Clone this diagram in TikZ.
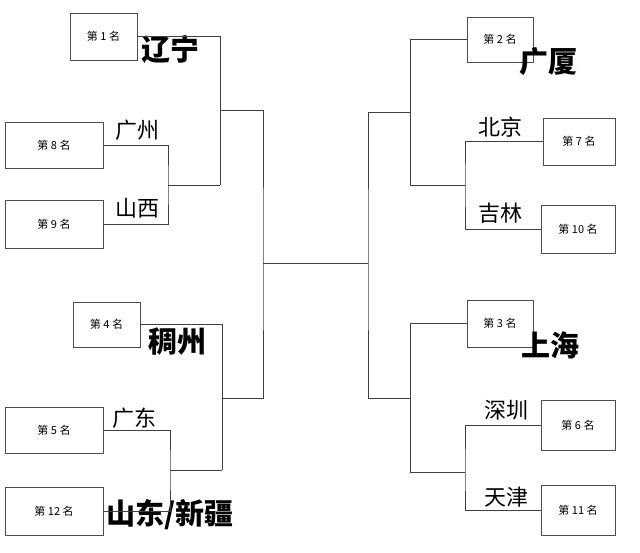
\documentclass[tikz,border=0pt]{standalone}
\usepackage{fontspec}
\newfontfamily\cjk{Noto Sans CJK SC}
\begin{document}
\begin{tikzpicture}[x=1pt,y=-1pt]
\tikzset{rank/.style={draw=black!70, line width=0.6pt, font=\cjk\fontsize{11}{12}\selectfont},
team/.style={font=\cjk\fontsize{22}{24}\selectfont},
big/.style={font=\cjk\bfseries\fontsize{29}{30}\selectfont},
link/.style={draw=black!75, line width=0.7pt}}
\useasboundingbox (0,0) rectangle (640,553);

% left boxes
\node[rank, minimum width=67, minimum height=47] (b1) at (103.5,36.5) {第 1 名};
\node[rank, minimum width=98, minimum height=46] (b8) at (54,145) {第 8 名};
\node[rank, minimum width=98, minimum height=48] (b9) at (54,224) {第 9 名};
\node[rank, minimum width=67, minimum height=45] (b4) at (106.5,324.5) {第 4 名};
\node[rank, minimum width=98, minimum height=46] (b5) at (54,430) {第 5 名};
\node[rank, minimum width=98, minimum height=48] (b12) at (54,511) {第 12 名};

% right boxes
\node[rank, minimum width=66, minimum height=45] (b2) at (500,39.5) {第 2 名};
\node[rank, minimum width=72, minimum height=47] (b7) at (579,141.5) {第 7 名};
\node[rank, minimum width=74, minimum height=48] (b10) at (578,229) {第 10 名};
\node[rank, minimum width=66, minimum height=47] (b3) at (500,323.5) {第 3 名};
\node[rank, minimum width=74, minimum height=50] (b6) at (578,425) {第 6 名};
\node[rank, minimum width=74, minimum height=50] (b11) at (578,510) {第 11 名};

% team names
\node[big] (t1) at (170,50) {辽宁};
\node[team] (t8) at (137,130) {广州};
\node[team] (t9) at (137,208) {山西};
\node[big] (t4) at (177,342) {稠州};
\node[team] (t5) at (134,418) {广东};
\node[big] (t12) at (170,515) {山东/新疆};
\node[big] (t2) at (548,62) {广厦};
\node[team] (t7) at (500,127) {北京};
\node[team] (t10) at (500,213) {吉林};
\node[big] (t3) at (550,345) {上海};
\node[team] (t6) at (506,410) {深圳};
\node[team] (t11) at (506,497) {天津};

% junctions
\coordinate (j89) at (168,185);
\coordinate (j1) at (220,185);
\coordinate (a1) at (220,110);
\coordinate (j512) at (170,470);
\coordinate (j4) at (222,470);
\coordinate (a2) at (222,398);
\coordinate (c) at (263,263);
\coordinate (d) at (368,263);
\coordinate (k710) at (465,185);
\coordinate (k2) at (410,185);
\coordinate (r1) at (410,112);
\coordinate (k611) at (465,472);
\coordinate (k3) at (410,472);
\coordinate (r2) at (410,398);

% left bracket
\draw[link] (b8.east) -| (j89) |- (b9.east);
\draw[link] (j89) -- (j1);
\draw[link] (b1.east) -| (j1);
\draw[link] (b5.east) -| (j512) |- (b12.east);
\draw[link] (j512) -- (j4);
\draw[link] (b4.east) -| (j4);
\draw[link] (a1) -| (c) |- (a2);
\draw[link] (c) -- (d);

% right bracket
\draw[link] (b7.west) -| (k710) |- (b10.west);
\draw[link] (k710) -- (k2);
\draw[link] (b2.west) -| (k2);
\draw[link] (b6.west) -| (k611) |- (b11.west);
\draw[link] (k611) -- (k3);
\draw[link] (b3.west) -| (k3);
\draw[link] (r1) -| (d) |- (r2);
\end{tikzpicture}
\end{document}
